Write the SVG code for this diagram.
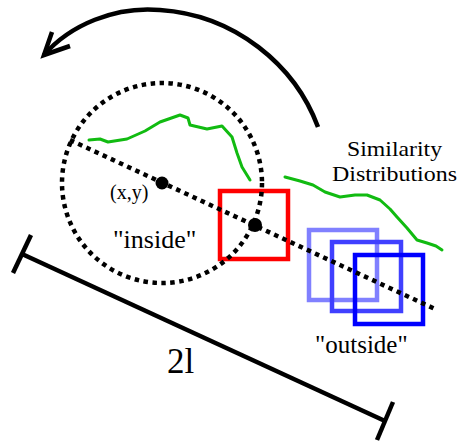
<svg xmlns="http://www.w3.org/2000/svg" width="459" height="444" viewBox="0 0 459 444">
<style>
.t{font-family:"Liberation Serif","Times New Roman",serif;fill:#000}
.dot{fill:none;stroke:#000;stroke-width:4.5;stroke-dasharray:4.5 4.5}
.sq{fill:none;stroke-width:4.5}
.green{fill:none;stroke:#11bb11;stroke-width:3;stroke-linejoin:round;stroke-linecap:round}
.blk{fill:none;stroke:#000;stroke-width:4.5}
</style>
<rect width="459" height="444" fill="#fff"/>
<g id="rotation-arrow">
<path class="blk" d="M318,127 C295,65 235,15 160,10 C115,6 70,25 44,55"/>
<polyline class="blk" points="52,32 44,55 70,46" stroke-linejoin="miter"/>
</g>
<g id="similarity-curves">
<polyline class="green" points="89,140 100,139 108,142 127,139 145,131 160,122 180,115 188,118 190,125 207,129 222,126 232,137 237,153 242,167 250,180"/>
<polyline class="green" points="285,177 300,181 313,185 325,192 340,197 355,195 367,195 380,200 390,209 397,217 407,228 417,240 427,243 436,246 442,250"/>
</g>
<g id="outside-squares">
<rect class="sq" x="309" y="230" width="68" height="70" stroke="#8080ff"/>
<rect class="sq" x="332" y="242" width="69" height="69" stroke="#4040ff"/>
<rect class="sq" x="355" y="255" width="68" height="69" stroke="#0000ff"/>
</g>
<g id="inside-square">
<rect class="sq" x="220" y="191" width="68" height="68" stroke="#ff0000"/>
</g>
<g id="connectors">
<circle class="dot" cx="162" cy="183" r="100"/>
<line class="dot" x1="70" y1="140" x2="435" y2="309"/>
</g>
<g id="center-point">
<circle cx="162" cy="183" r="6.5" fill="#000"/>
</g>
<g id="edge-point">
<circle cx="255" cy="225" r="7" fill="#000"/>
</g>
<g id="measure">
<line class="blk" x1="22" y1="254" x2="385" y2="421"/>
<line class="blk" x1="31" y1="235" x2="13" y2="273"/>
<line class="blk" x1="393" y1="402" x2="377" y2="440"/>
</g>
<g id="labels">
<text class="t" x="110" y="199" font-size="20">(x,y)</text>
<text class="t" x="113" y="248" font-size="26">"inside"</text>
<text class="t" x="315" y="353" font-size="25">"outside"</text>
<text class="t" x="167" y="373" font-size="35">2l</text>
<text class="t" x="347" y="156" font-size="22" textLength="95" lengthAdjust="spacingAndGlyphs">Similarity</text>
<text class="t" x="332" y="180.5" font-size="22" textLength="125" lengthAdjust="spacingAndGlyphs">Distributions</text>
</g>
</svg>
